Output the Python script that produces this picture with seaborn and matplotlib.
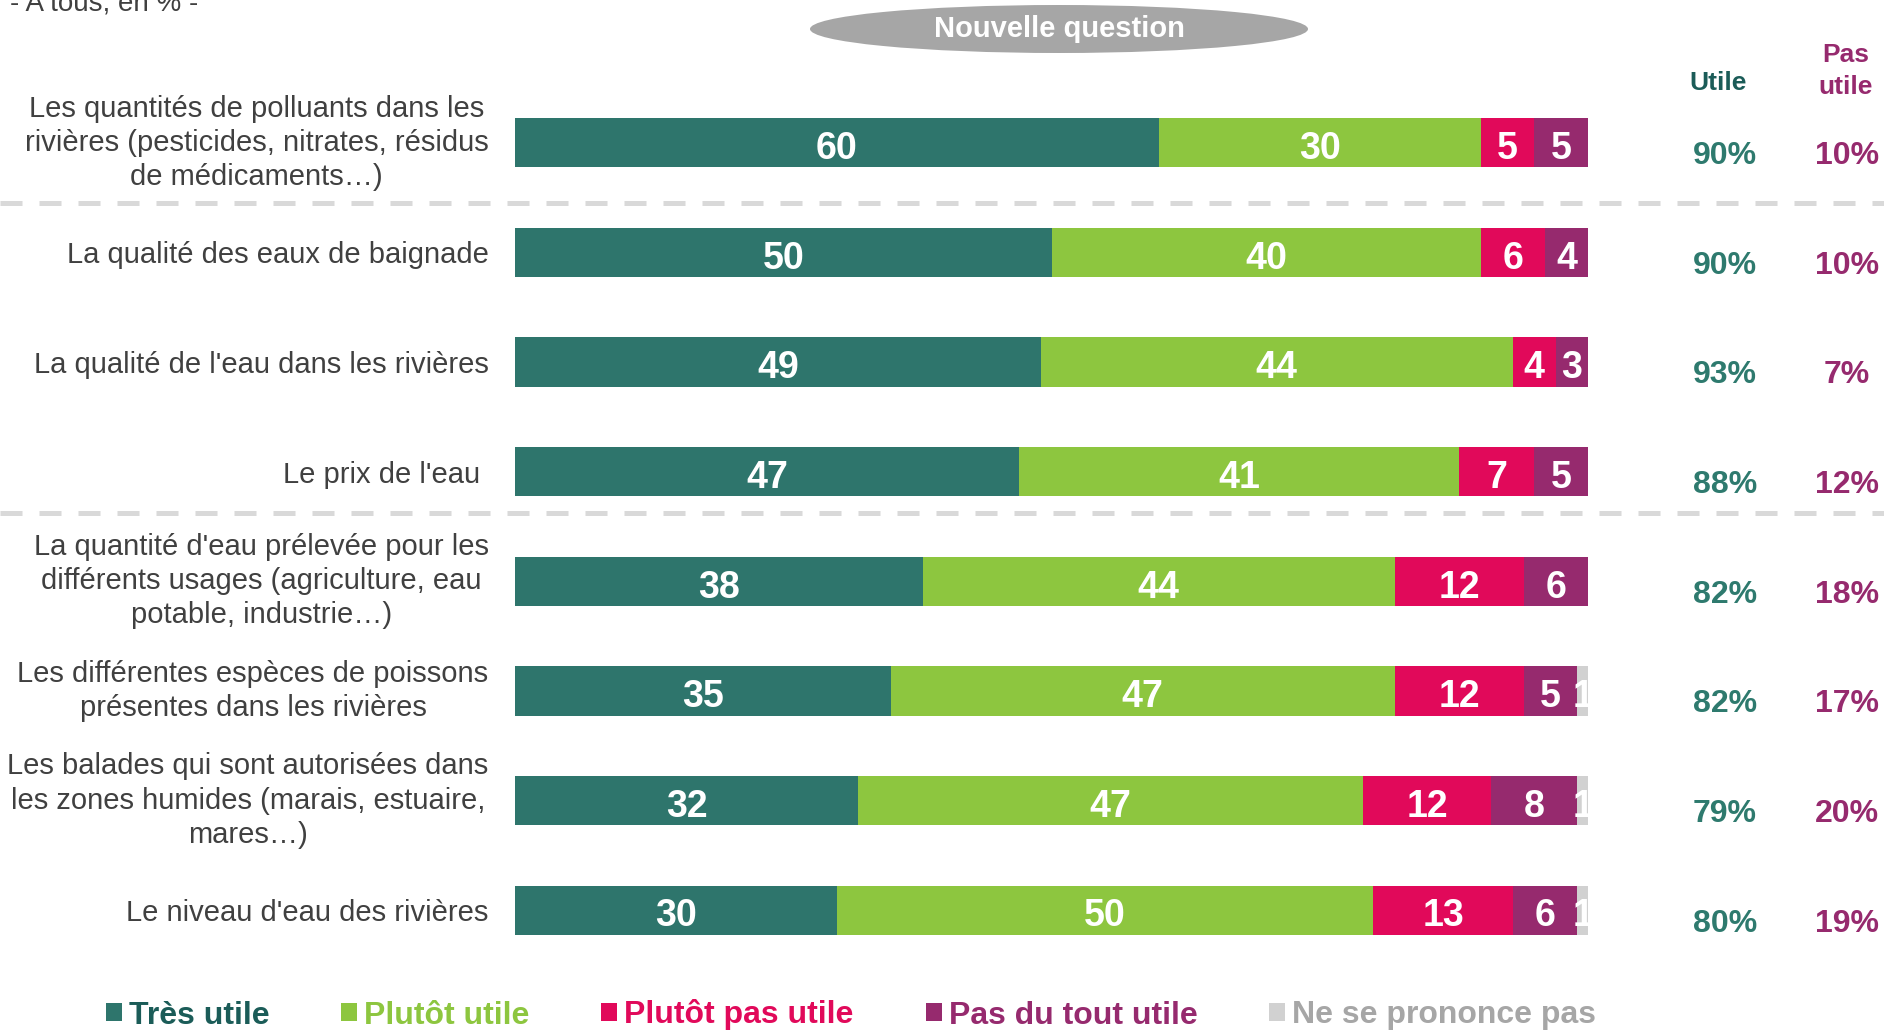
import numpy as np
import pandas as pd
import matplotlib
matplotlib.use('Agg')
import matplotlib.pyplot as plt
from matplotlib.patches import Ellipse, Patch
from matplotlib.lines import Line2D
from matplotlib import transforms
import seaborn as sns

CATEGORIES = [
    "Les quantités de polluants dans les\nrivières (pesticides, nitrates, résidus\nde médicaments…)",
    "La qualité des eaux de baignade",
    "La qualité de l'eau dans les rivières",
    "Le prix de l'eau ",
    "La quantité d'eau prélevée pour les\ndifférents usages (agriculture, eau\npotable, industrie…)",
    "Les différentes espèces de poissons\nprésentes dans les rivières",
    "Les balades qui sont autorisées dans\nles zones humides (marais, estuaire,\nmares…)",
    "Le niveau d'eau des rivières",
]
TRES_UTILE = [60, 50, 49, 47, 38, 35, 32, 30]
PLUTOT_UTILE = [30, 40, 44, 41, 44, 47, 47, 50]
PLUTOT_PAS = [5, 6, 4, 7, 12, 12, 12, 13]
PAS_DU_TOUT = [5, 4, 3, 5, 6, 5, 8, 6]
NSP = [0, 0, 0, 0, 0, 1, 1, 1]
UTILE = ["90%", "90%", "93%", "88%", "82%", "82%", "79%", "80%"]
PAS_UTILE = ["10%", "10%", "7%", "12%", "18%", "17%", "20%", "19%"]

SERIES = ["Très utile", "Plutôt utile", "Plutôt pas utile", "Pas du tout utile", "Ne se prononce pas"]
COLORS = ["#2E756C", "#8DC63F", "#E1095A", "#962A6E", "#D1D1D1"]
TEXT_COLORS = ["#1B5C58", "#8DC63F", "#E1095A", "#962A6E", "#A6A6A6"]

W, H = 1884, 1030

sns.set_style('white')
plt.rcParams['font.family'] = ['Liberation Sans', 'DejaVu Sans']

fig = plt.figure(figsize=(W / 100, H / 100), dpi=100)
ax = fig.add_axes([515 / W, 1 - 965 / H, (1588 - 515) / W, (965 - 88) / H])

vals = np.array([TRES_UTILE, PLUTOT_UTILE, PLUTOT_PAS, PAS_DU_TOUT, NSP])
cum = vals.cumsum(axis=0)

# stacked bars: draw cumulative totals from the longest to the shortest
for k in range(len(SERIES) - 1, -1, -1):
    df = pd.DataFrame({"cat": CATEGORIES, "val": cum[k]})
    sns.barplot(data=df, x="val", y="cat", orient="y", color=COLORS[k],
                saturation=1, width=0.45, linewidth=0, ax=ax)

# values inside the segments
for i in range(len(CATEGORIES)):
    left = 0
    for k in range(len(SERIES)):
        v = vals[k, i]
        if v > 0:
            ax.text(left + v / 2, i + 0.02, str(v), ha='center', va='center_baseline',
                    color='white', fontsize=27, fontweight='bold')
        left += v

ax.set_xlim(0, 100)
ax.set_ylim(len(CATEGORIES) - 0.5, -0.5)
ax.set_xticks([])
ax.set_xlabel('')
ax.set_ylabel('')
ax.tick_params(axis='y', length=0, pad=19, labelsize=21, labelcolor='#404040')
for t in ax.get_yticklabels():
    t.set_multialignment('center')
    t.set_linespacing(1.28)
    if '\n' in t.get_text():
        t.set_verticalalignment('center')
sns.despine(ax=ax, left=True, bottom=True)

# right-hand columns
tr = transforms.blended_transform_factory(fig.transFigure, ax.transData)
for i in range(len(CATEGORIES)):
    ax.text(1725 / W, i + 0.09, UTILE[i], transform=tr, ha='center', va='center_baseline',
            color='#2E7A6E', fontsize=23, fontweight='bold')
    ax.text(1847 / W, i + 0.09, PAS_UTILE[i], transform=tr, ha='center', va='center_baseline',
            color='#962A6E', fontsize=23, fontweight='bold')
fig.text(1718 / W, 1 - 83 / H, "Utile", ha='center', va='center',
         color='#1B5C58', fontsize=19, fontweight='bold')
fig.text(1846 / W, 1 - 71 / H, "Pas\nutile", ha='center', va='center',
         color='#962A6E', fontsize=19, fontweight='bold', linespacing=1.45)

# dashed separators
for yp in [203, 513]:
    fig.add_artist(Line2D([0, 1], [1 - yp / H, 1 - yp / H], transform=fig.transFigure,
                          color='#D9D9D9', lw=3.6, dashes=(4.4, 3.4)))

# subtitle and "Nouvelle question" badge
fig.text(10 / W, 1 - 11 / H, "- A tous, en % -", ha='left', va='baseline',
         color='#404040', fontsize=20)
fig.add_artist(Ellipse((1059 / W, 1 - 29 / H), 498 / W, 48 / H,
                       transform=fig.transFigure, facecolor='#A6A6A6', edgecolor='none'))
fig.text(1059 / W, 1 - 29 / H, "Nouvelle question", ha='center', va='center',
         color='white', fontsize=21, fontweight='bold')

# legend
handles = [Patch(facecolor=c, edgecolor='none') for c in COLORS]
leg = fig.legend(handles, SERIES, loc='center', bbox_to_anchor=(851 / W, 1 - 1015 / H),
                 ncol=5, frameon=False, handlelength=0.5, handleheight=0.5,
                 handletextpad=0.22, columnspacing=2.25, borderpad=0,
                 prop={'size': 23, 'weight': 'bold'})
for txt, c in zip(leg.get_texts(), TEXT_COLORS):
    txt.set_color(c)

fig.savefig('out.png', dpi=100)
